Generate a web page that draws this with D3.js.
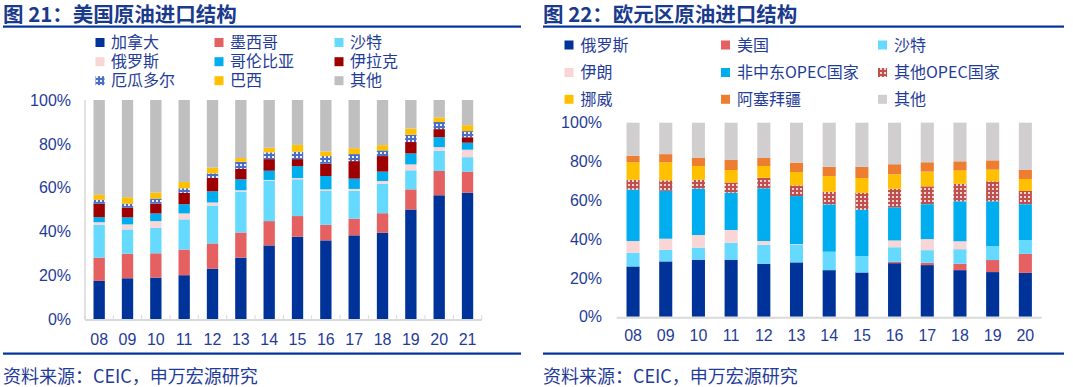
<!DOCTYPE html>
<html><head><meta charset="utf-8">
<script src="https://cdn.jsdelivr.net/npm/d3@7"></script>
<style>
html,body{margin:0;padding:0;background:#fff;}
svg{display:block;font-family:"Liberation Sans",Arial,"Noto Sans CJK SC",sans-serif;}
.cjk{font-family:"Noto Sans CJK SC","Liberation Sans",sans-serif;}
</style></head><body>
<svg id="c" width="1073" height="387"></svg>
<script>
// ---------- data: chart 21 (US crude imports) ----------
const usYears = ["08","09","10","11","12","13","14","15","16","17","18","19","20","21"];
const usSeries = ["加拿大","墨西哥","沙特","俄罗斯","哥伦比亚","伊拉克","厄瓜多尔","巴西","其他"];
const usCanada   = [17.4,18.6,18.9,20.0,23.0,28.0,33.6,37.6,35.9,38.2,39.4,50.0,56.5,57.7];
const usMexico   = [10.6,11.2,11.1,11.7,11.5,11.5,11.1, 9.4, 7.1, 7.6, 8.9, 9.2,11.1, 9.6];
const usSaudi    = [15.0,11.1,11.7,13.8,17.3,18.7,18.5,16.8,15.5,12.8,13.4, 8.7, 9.2, 6.6];
const usRussia   = [ 1.2, 2.3, 3.0, 2.7, 1.4, 0.6, 0.3, 0.6, 0.7, 0.8, 1.3, 2.7, 1.7, 3.4];
const usColombia = [ 2.3, 3.2, 3.5, 4.2, 5.1, 5.0, 4.2, 5.4, 6.1, 4.7, 4.3, 5.0, 4.5, 3.2];
const usIraq     = [ 6.1, 4.5, 4.5, 5.2, 6.1, 4.7, 5.3, 3.2, 5.6, 8.0, 7.1, 5.2, 3.7, 2.5];
const usEcuador  = [ 1.9, 1.8, 2.3, 2.1, 2.1, 3.3, 3.1, 3.4, 3.5, 3.2, 2.6, 3.3, 3.3, 2.8];
const usBrazil   = [ 2.2, 2.9, 2.7, 2.9, 2.6, 1.7, 2.1, 3.1, 2.1, 2.7, 2.4, 2.9, 2.1, 2.7];
const usOther    = [43.3,44.4,42.3,37.4,30.9,26.5,21.8,20.5,23.5,22.0,20.6,13.0, 7.9,11.5];

// ---------- data: chart 22 (Euro area crude imports) ----------
const euYears = ["08","09","10","11","12","13","14","15","16","17","18","19","20"];
const euSeries = ["俄罗斯","美国","沙特","伊朗","非中东OPEC国家","其他OPEC国家","挪威","阿塞拜疆","其他"];
const euRussia   = [25.9,28.5,29.4,29.4,27.3,28.0,24.0,22.8,27.6,26.6,24.0,23.0,22.6];
const euUS       = [ 0.0, 0.0, 0.0, 0.0, 0.0, 0.0, 0.0, 0.0, 0.7, 1.2, 3.3, 6.2, 9.8];
const euSaudi    = [ 7.1, 5.9, 6.2, 8.7, 9.8, 9.1, 9.5, 8.4, 7.5, 6.5, 7.5, 7.2, 7.1];
const euIran     = [ 6.0, 5.8, 6.5, 6.6, 1.9, 0.3, 0.0, 0.0, 3.5, 5.7, 4.1, 0.0, 0.0];
const euNonME    = [26.5,24.7,23.9,19.2,27.2,24.8,24.4,23.9,17.1,18.0,20.6,23.1,18.5];
const euOtherOP  = [ 5.1, 5.4, 4.6, 5.3, 5.4, 5.5, 6.5, 8.7, 9.5, 9.2, 9.1,10.3, 6.8];
const euNorway   = [ 9.0, 9.3, 7.1, 6.4, 6.1, 6.9, 8.1, 7.7, 7.5, 7.6, 6.7, 6.0, 6.2];
const euAzer     = [ 3.4, 4.2, 4.3, 5.2, 4.1, 4.8, 4.8, 5.7, 5.2, 4.8, 4.8, 4.8, 4.8];
const euOther    = [17.0,16.2,18.0,19.2,18.2,20.6,22.7,22.8,21.4,20.4,19.9,19.4,24.2];

const yTicks = [0,20,40,60,80,100];

const TEXT = "#1f3c99", NAVY = "#003399";
const svg = d3.select("#c");

// patterns
const defs = svg.append("defs");
function pat(id, bg, dot){
  const p = defs.append("pattern").attr("id",id).attr("patternUnits","userSpaceOnUse")
    .attr("width",4).attr("height",4);
  p.append("rect").attr("width",4).attr("height",4).attr("fill",bg);
  p.append("rect").attr("x",0).attr("y",0).attr("width",2).attr("height",2).attr("fill",dot);
}
pat("pEcu","#4a6fc4","#e8eefa");
pat("pOpec","#c0504d","#f3d4d4");

const usColors = ["#003399","#e46061","#66d9ff","#f9d5d6","#00aeef","#9e0000","url(#pEcu)","#ffc000","#bfbfbf"];
const euColors = ["#003399","#e46061","#66d9ff","#f9d5d6","#00aeef","url(#pOpec)","#ffc000","#ed7d31","#d0cecf"];

function drawChart(cfg){
  const g = svg.append("g");
  // title
  g.append("text").attr("class","cjk").attr("x",cfg.x0).attr("y",21.5)
    .attr("font-size",20.5).attr("font-weight","bold").attr("fill","#1a3a8c").text(cfg.title);
  g.append("rect").attr("x",cfg.x0).attr("y",25.5).attr("width",cfg.x1-cfg.x0).attr("height",2.2).attr("fill",NAVY);
  g.append("rect").attr("x",cfg.x0).attr("y",352.5).attr("width",cfg.x1-cfg.x0).attr("height",2.2).attr("fill",NAVY);
  g.append("text").attr("class","cjk").attr("x",cfg.x0).attr("y",383)
    .attr("font-size",18).attr("fill",TEXT).text("资料来源：CEIC，申万宏源研究");

  // legend
  cfg.series.forEach((s,i)=>{
    const col = i%3, row = Math.floor(i/3);
    const lx = cfg.legX[col], ly = cfg.legY[row];
    g.append("rect").attr("x",lx-4.5).attr("y",ly-4.5).attr("width",9).attr("height",9).attr("fill",cfg.colors[i]);
    g.append("text").attr("class","cjk").attr("x",lx+cfg.legGap).attr("y",ly).attr("dy","0.36em")
      .attr("font-size",16).attr("fill",TEXT).text(s);
  });

  const x = d3.scaleBand().domain(cfg.years).range(cfg.xr).paddingInner(0.6).paddingOuter(0.3);
  const y = d3.scaleLinear().domain([0,100]).range(cfg.yr);

  // table
  const rows = cfg.years.map((yr,i)=>{ const o={year:yr}; cfg.series.forEach((s,k)=>o[s]=cfg.values[k][i]); return o;});
  const stacked = d3.stack().keys(cfg.series)(rows);

  // y-axis line
  if(cfg.yLine){
    g.append("line").attr("x1",cfg.xr[0]).attr("x2",cfg.xr[0]).attr("y1",y(100)).attr("y2",y(0))
      .attr("stroke","#d9d9d9").attr("stroke-width",1.5);
  }
  // bars
  stacked.forEach((layer,k)=>{
    g.append("g").selectAll("rect").data(layer).join("rect")
      .attr("x",d=>x(d.data.year)).attr("width",x.bandwidth())
      .attr("y",d=>y(d[1])).attr("height",d=>Math.max(0,y(d[0])-y(d[1])))
      .attr("fill",cfg.colors[k]);
  });
  // x-axis line
  g.append("line").attr("x1",cfg.xr[0]).attr("x2",cfg.xr[1]).attr("y1",y(0)+1).attr("y2",y(0)+1)
    .attr("stroke","#d9d9d9").attr("stroke-width",2);
  if(cfg.xTicks){
    const step = x.step();
    d3.range(cfg.years.length+1).forEach(i=>{
      const xx = cfg.xr[0] + i*step;
      g.append("line").attr("x1",xx).attr("x2",xx).attr("y1",y(0)-4).attr("y2",y(0)+1)
        .attr("stroke","#d9d9d9").attr("stroke-width",1);
    });
  }
  // y labels
  g.append("g").selectAll("text").data(yTicks).join("text")
    .attr("x",cfg.yLabX).attr("y",d=>y(d)).attr("dy","0.36em").attr("text-anchor","end")
    .attr("font-size",16).attr("fill",TEXT).text(d=>d+"%");
  // x labels
  g.append("g").selectAll("text").data(cfg.years).join("text")
    .attr("x",d=>x(d)+x.bandwidth()/2).attr("y",cfg.xLabY).attr("dy","0.36em").attr("text-anchor","middle")
    .attr("font-size",16).attr("fill",TEXT).text(d=>d);
}

drawChart({
  title:"图 21：美国原油进口结构", x0:3, x1:521,
  series:usSeries, colors:usColors, years:usYears,
  values:[usCanada,usMexico,usSaudi,usRussia,usColombia,usIraq,usEcuador,usBrazil,usOther],
  legX:[100,219,339], legY:[42.5,61.7,80.7], legGap:11,
  xr:[85,481.7], yr:[319,100], yLine:true, xTicks:true, yLabX:71, xLabY:339
});
drawChart({
  title:"图 22：欧元区原油进口结构", x0:543, x1:1064,
  series:euSeries, colors:euColors, years:euYears,
  values:[euRussia,euUS,euSaudi,euIran,euNonME,euOtherOP,euNorway,euAzer,euOther],
  legX:[569,725.5,882.5], legY:[45,72.5,99.3], legGap:11.5,
  xr:[616.7,1041.7], yr:[316.7,122.7], yLine:false, xTicks:false, yLabX:602, xLabY:335
});
</script>
</body></html>
